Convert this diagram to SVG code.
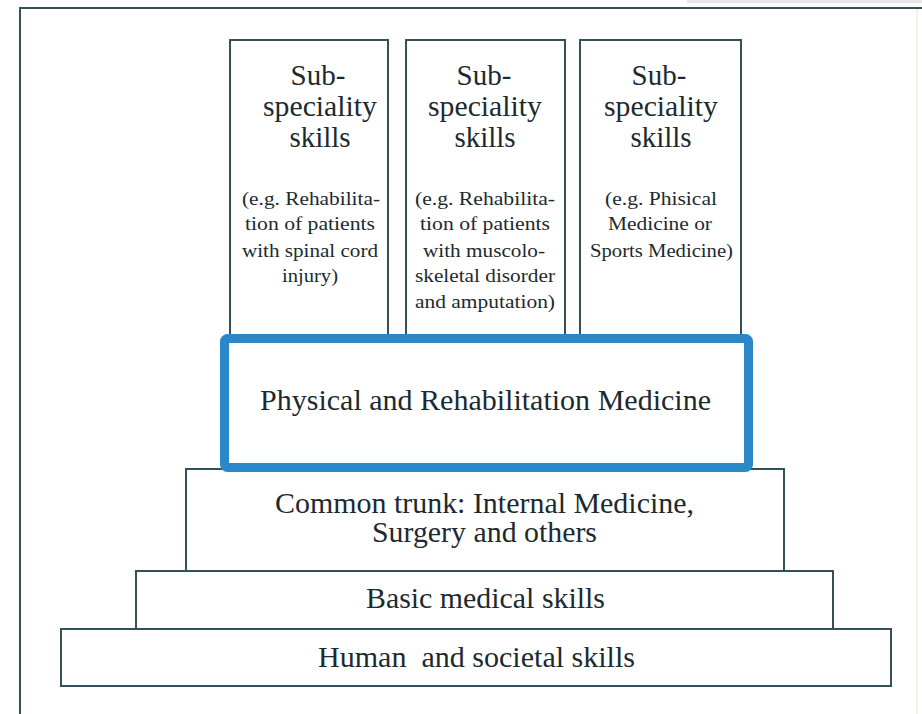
<svg xmlns="http://www.w3.org/2000/svg" width="922" height="714" viewBox="0 0 922 714">
<style>
.box{fill:#ffffff;stroke:#34505a;stroke-width:2}
.frame{fill:none;stroke:#34505a;stroke-width:2}
text{font-family:'Liberation Serif',Tinos,'Times New Roman',Times,serif;fill:#1c2a30}
.big{font-size:29px;text-anchor:middle}
.small{font-size:18px}
.lbl{font-size:29px}
.blue{fill:#ffffff;stroke:#2a87c8;stroke-width:9}
</style>
<rect x="0" y="0" width="922" height="714" fill="#ffffff"/>
<rect x="687" y="0" width="235" height="3" fill="#e6e6e6"/>
<g id="frame">
<line class="frame" x1="19" y1="8" x2="922" y2="8"/>
<line class="frame" x1="20" y1="8" x2="20" y2="714"/>
<line x1="917" y1="9" x2="917" y2="714" stroke="#f6ebe6" stroke-width="1.5"/>
</g>
<g id="sub1">
<rect class="box" x="230" y="40" width="158" height="300"/>
<text class="big" x="318" y="85">Sub-</text>
<text class="big" x="320" y="116" textLength="114" lengthAdjust="spacingAndGlyphs">speciality</text>
<text class="big" x="320" y="147">skills</text>
<text class="small" x="242" y="205" textLength="138" lengthAdjust="spacingAndGlyphs">(e.g. Rehabilita-</text>
<text class="small" x="245" y="230" textLength="130" lengthAdjust="spacingAndGlyphs">tion of patients</text>
<text class="small" x="242" y="257" textLength="136" lengthAdjust="spacingAndGlyphs">with spinal cord</text>
<text class="small" x="282" y="282" textLength="56" lengthAdjust="spacingAndGlyphs">injury)</text>
</g>
<g id="sub2">
<rect class="box" x="406" y="40" width="159" height="300"/>
<text class="big" x="484" y="85">Sub-</text>
<text class="big" x="485" y="116" textLength="114" lengthAdjust="spacingAndGlyphs">speciality</text>
<text class="big" x="485" y="147">skills</text>
<text class="small" x="415" y="205" textLength="140" lengthAdjust="spacingAndGlyphs">(e.g. Rehabilita-</text>
<text class="small" x="420" y="230" textLength="130" lengthAdjust="spacingAndGlyphs">tion of patients</text>
<text class="small" x="423" y="257" textLength="122" lengthAdjust="spacingAndGlyphs">with muscolo-</text>
<text class="small" x="415" y="282" textLength="140" lengthAdjust="spacingAndGlyphs">skeletal disorder</text>
<text class="small" x="415" y="308" textLength="140" lengthAdjust="spacingAndGlyphs">and amputation)</text>
</g>
<g id="sub3">
<rect class="box" x="580" y="40" width="161" height="300"/>
<text class="big" x="659" y="85">Sub-</text>
<text class="big" x="661" y="116" textLength="114" lengthAdjust="spacingAndGlyphs">speciality</text>
<text class="big" x="661" y="147">skills</text>
<text class="small" x="605" y="205" textLength="112" lengthAdjust="spacingAndGlyphs">(e.g. Phisical</text>
<text class="small" x="608" y="230" textLength="104" lengthAdjust="spacingAndGlyphs">Medicine or</text>
<text class="small" x="590" y="257" textLength="143" lengthAdjust="spacingAndGlyphs">Sports Medicine)</text>
</g>
<g id="human">
<rect class="box" x="61" y="629" width="830" height="57"/>
<text class="lbl" x="318" y="667" textLength="317" lengthAdjust="spacingAndGlyphs" xml:space="preserve">Human  and societal skills</text>
</g>
<g id="basic">
<rect class="box" x="136" y="571" width="697" height="58"/>
<text class="lbl" x="366" y="608" textLength="239" lengthAdjust="spacingAndGlyphs">Basic medical skills</text>
</g>
<g id="trunk">
<rect class="box" x="186" y="469" width="598" height="102"/>
<text class="lbl" x="275" y="513" textLength="419" lengthAdjust="spacingAndGlyphs">Common trunk: Internal Medicine,</text>
<text class="lbl" x="372" y="542" textLength="225" lengthAdjust="spacingAndGlyphs">Surgery and others</text>
</g>
<g id="prm">
<rect class="blue" x="224.5" y="338.5" width="524" height="129" rx="3"/>
<text class="lbl" x="260" y="410" textLength="451" lengthAdjust="spacingAndGlyphs">Physical and Rehabilitation Medicine</text>
</g>
<g id="connectors"></g>
</svg>
